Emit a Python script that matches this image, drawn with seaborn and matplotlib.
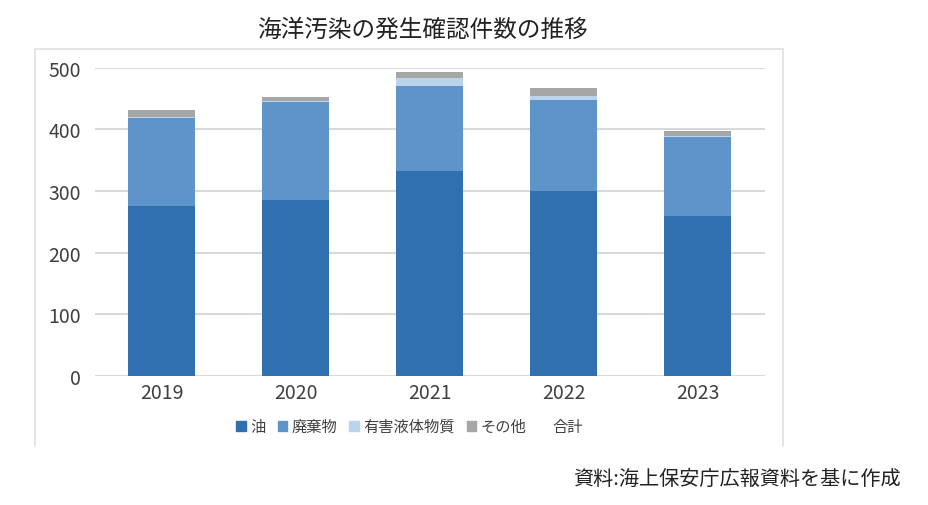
import matplotlib.pyplot as plt
import numpy as np
import pandas as pd
import seaborn as sns
from matplotlib.lines import Line2D
from matplotlib.patches import Patch

years = ["2019", "2020", "2021", "2022", "2023"]
oil = [275, 286, 332, 300, 259]
waste = [143, 158, 138, 147, 128]
harmful = [3, 2, 14, 8, 2]
other = [10, 6, 9, 12, 8]

labels = ["油", "廃棄物", "有害液体物質", "その他"]
colors = ["#3070AE", "#5E94C9", "#BCD4EB", "#A6A6A6"]

sns.set_theme(style="white")
plt.rcParams["font.family"] = ["Noto Sans CJK JP", "DejaVu Sans"]

fig = plt.figure(figsize=(9.29, 5.06), dpi=100)
ax = fig.add_axes([0.102, 0.255, 0.721, 0.609])

# stacked bars: draw cumulative totals from the top layer down
stack = np.cumsum(np.array([oil, waste, harmful, other]), axis=0)
for i in range(len(labels) - 1, -1, -1):
    df = pd.DataFrame({"year": years, "value": stack[i]})
    sns.barplot(data=df, x="year", y="value", color=colors[i], saturation=1,
                width=0.5, ax=ax, linewidth=0, zorder=3)

ax.set_ylim(0, 500)
ax.set_xlim(-0.5, 4.5)
ax.set_yticks([0, 100, 200, 300, 400, 500])
ax.grid(axis="y", color="#D9D9D9", linewidth=1.5, zorder=0)
ax.set_axisbelow(True)
for s in ax.spines.values():
    s.set_visible(False)
ax.set_xlabel("")
ax.set_ylabel("")
ax.tick_params(axis="both", length=0, labelsize=14, colors="#404040")
ax.tick_params(axis="y", pad=10)
ax.tick_params(axis="x", pad=4)

handles = [Patch(color=c) for c in colors] + [Line2D([], [], color="none")]
fig.legend(handles, labels + ["合計"], loc="center", bbox_to_anchor=(0.441, 0.155),
           ncol=5, frameon=False, fontsize=11, handlelength=0.6, handleheight=0.6,
           handletextpad=0.3, columnspacing=0.8, labelcolor="#404040")

# faint chart frame
fc = "#E0E0E0"
fig.add_artist(Line2D([0.038, 0.038], [0.117, 0.901], color=fc, lw=1.2))
fig.add_artist(Line2D([0.843, 0.843], [0.117, 0.901], color=fc, lw=1.2))
fig.add_artist(Line2D([0.038, 0.843], [0.901, 0.901], color=fc, lw=1.2))

fig.text(0.455, 0.94, "海洋汚染の発生確認件数の推移", ha="center", va="center",
         fontsize=17, color="#222222")
fig.text(0.97, 0.052, "資料:海上保安庁広報資料を基に作成", ha="right", va="center",
         fontsize=14.5, color="#222222")

fig.savefig("out.png", dpi=100)
